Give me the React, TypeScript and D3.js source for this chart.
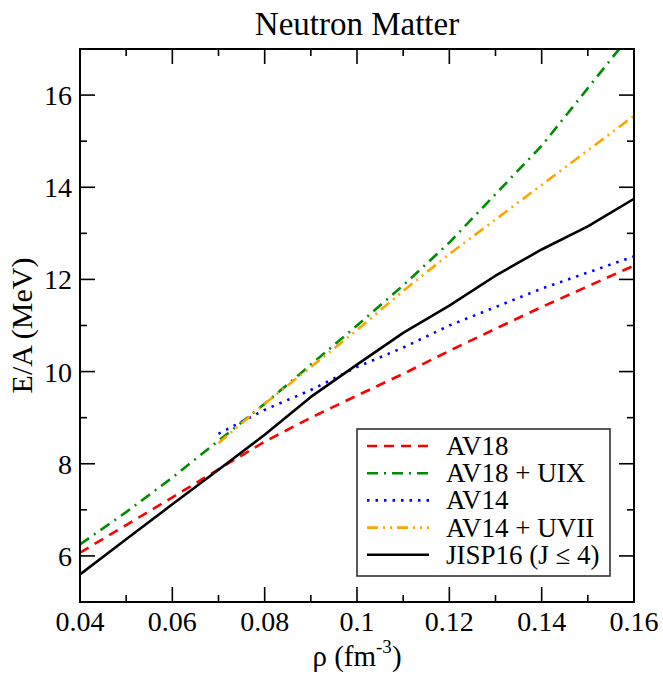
import React, { useRef, useEffect } from 'react';
import * as d3 from 'd3';

const W = 663;
const H = 677;
const M = { top: 49, right: 29, bottom: 75, left: 80 };

const rho = [0.04, 0.05, 0.06, 0.07, 0.08, 0.09, 0.1, 0.11, 0.12, 0.13, 0.14, 0.15, 0.16];
const rhoShort = [0.07, 0.08, 0.09, 0.1, 0.11, 0.12, 0.13, 0.14, 0.15, 0.16];

const av18 = [6.07, 6.67, 7.27, 7.88, 8.48, 9.0, 9.48, 9.95, 10.45, 10.93, 11.4, 11.85, 12.3];
const av18uix = [6.25, 6.95, 7.7, 8.5, 9.3, 10.15, 11.0, 11.87, 12.8, 13.85, 14.9, 16.15, 17.4];
const av14 = [8.65, 9.17, 9.6, 10.1, 10.52, 11.0, 11.4, 11.8, 12.15, 12.5];
const av14uvii = [8.45, 9.3, 10.1, 10.9, 11.75, 12.55, 13.3, 14.05, 14.8, 15.55];
const jisp16 = [5.6, 6.36, 7.12, 7.87, 8.63, 9.45, 10.15, 10.84, 11.43, 12.08, 12.65, 13.15, 13.75];

const xTicks = [0.04, 0.06, 0.08, 0.1, 0.12, 0.14, 0.16];
const xMinor = [0.05, 0.07, 0.09, 0.11, 0.13, 0.15];
const yTicks = [6, 8, 10, 12, 14, 16];
const yMinor = [7, 9, 11, 13, 15];

const series = [
  { name: 'AV18', xs: rho, ys: av18, color: '#ff0000', dash: '10,7' },
  { name: 'AV18 + UIX', xs: rho, ys: av18uix, color: '#008c00', dash: '11,6,2,6' },
  { name: 'AV14', xs: rhoShort, ys: av14, color: '#0000ff', dash: '2.5,6' },
  { name: 'AV14 + UVII', xs: rhoShort, ys: av14uvii, color: '#ffa500', dash: '11,5,2,5,2,5' },
  { name: 'JISP16 (J \u2264 4)', xs: rho, ys: jisp16, color: '#000000', dash: null as string | null },
];

const FONT = '"Liberation Serif", "Times New Roman", Times, serif';

export default function App() {
  const svgRef = useRef<SVGSVGElement>(null);

  useEffect(() => {
    document.body.style.margin = '0';
    const svg = d3.select(svgRef.current);
    svg.selectAll('*').remove();

    const w = W - M.left - M.right;
    const h = H - M.top - M.bottom;

    const x = d3.scaleLinear().domain([0.04, 0.16]).range([0, w]);
    const y = d3.scaleLinear().domain([5, 17]).range([h, 0]);

    svg.append('rect').attr('width', W).attr('height', H).attr('fill', '#fff');

    svg.append('defs').append('clipPath').attr('id', 'plot-clip')
      .append('rect').attr('width', w).attr('height', h);

    const g = svg.append('g').attr('transform', `translate(${M.left},${M.top})`);

    // Lines
    const lineG = g.append('g').attr('clip-path', 'url(#plot-clip)');
    series.forEach(s => {
      const pts = s.xs.map((xv, i) => [xv, s.ys[i]] as [number, number]);
      const line = d3.line<[number, number]>().x(d => x(d[0])).y(d => y(d[1]));
      lineG.append('path')
        .attr('d', line(pts))
        .attr('fill', 'none')
        .attr('stroke', s.color)
        .attr('stroke-width', 2.6)
        .attr('stroke-dasharray', s.dash)
        .attr('stroke-linejoin', 'round');
    });

    // Ticks (inward, all four sides)
    const tickG = g.append('g').attr('stroke', '#000').attr('stroke-width', 1.6);
    const addX = (vals: number[], len: number) => {
      vals.forEach(v => {
        tickG.append('line').attr('x1', x(v)).attr('x2', x(v)).attr('y1', h).attr('y2', h - len);
        tickG.append('line').attr('x1', x(v)).attr('x2', x(v)).attr('y1', 0).attr('y2', len);
      });
    };
    const addY = (vals: number[], len: number) => {
      vals.forEach(v => {
        tickG.append('line').attr('y1', y(v)).attr('y2', y(v)).attr('x1', 0).attr('x2', len);
        tickG.append('line').attr('y1', y(v)).attr('y2', y(v)).attr('x1', w).attr('x2', w - len);
      });
    };
    addX(xTicks, 15);
    addX(xMinor, 7);
    addY(yTicks, 15);
    addY(yMinor, 7);

    // Frame
    g.append('rect').attr('width', w).attr('height', h)
      .attr('fill', 'none').attr('stroke', '#000').attr('stroke-width', 2);

    // Tick labels
    const fmt = (v: number) => String(+v.toFixed(2));
    g.append('g').selectAll('text').data(xTicks).join('text')
      .attr('x', d => x(d)).attr('y', h + 29)
      .attr('text-anchor', 'middle')
      .attr('font-family', FONT).attr('font-size', 28)
      .text(d => fmt(d));

    g.append('g').selectAll('text').data(yTicks).join('text')
      .attr('x', -8).attr('y', d => y(d) + 10)
      .attr('text-anchor', 'end')
      .attr('font-family', FONT).attr('font-size', 28)
      .text(d => d);

    // Axis labels
    const xl = svg.append('text')
      .attr('x', M.left + w / 2).attr('y', 666)
      .attr('text-anchor', 'middle')
      .attr('font-family', FONT).attr('font-size', 29);
    xl.append('tspan').text('\u03c1 (fm');
    xl.append('tspan').attr('dy', -13).attr('font-size', 19).text('-3');
    xl.append('tspan').attr('dy', 13).text(')');

    svg.append('text')
      .attr('transform', `translate(32,${M.top + h / 2}) rotate(-90)`)
      .attr('text-anchor', 'middle')
      .attr('font-family', FONT).attr('font-size', 30)
      .text('E/A (MeV)');

    // Title
    svg.append('text')
      .attr('x', M.left + w / 2).attr('y', 35)
      .attr('text-anchor', 'middle')
      .attr('font-family', FONT).attr('font-size', 33)
      .text('Neutron Matter');

    // Legend
    const lg = svg.append('g').attr('transform', 'translate(357,429)');
    lg.append('rect').attr('width', 253).attr('height', 147)
      .attr('fill', '#fff').attr('stroke', '#333').attr('stroke-width', 1.6);
    series.forEach((s, i) => {
      const yy = 17 + i * 27.2;
      lg.append('line')
        .attr('x1', 10).attr('x2', 72).attr('y1', yy).attr('y2', yy)
        .attr('stroke', s.color).attr('stroke-width', 2.6)
        .attr('stroke-dasharray', s.dash);
      lg.append('text')
        .attr('x', 89).attr('y', yy + 9)
        .attr('font-family', FONT).attr('font-size', 27)
        .text(s.name);
    });
  }, []);

  return (
    <svg ref={svgRef} width={W} height={H} style={{ display: 'block' }} />
  );
}
